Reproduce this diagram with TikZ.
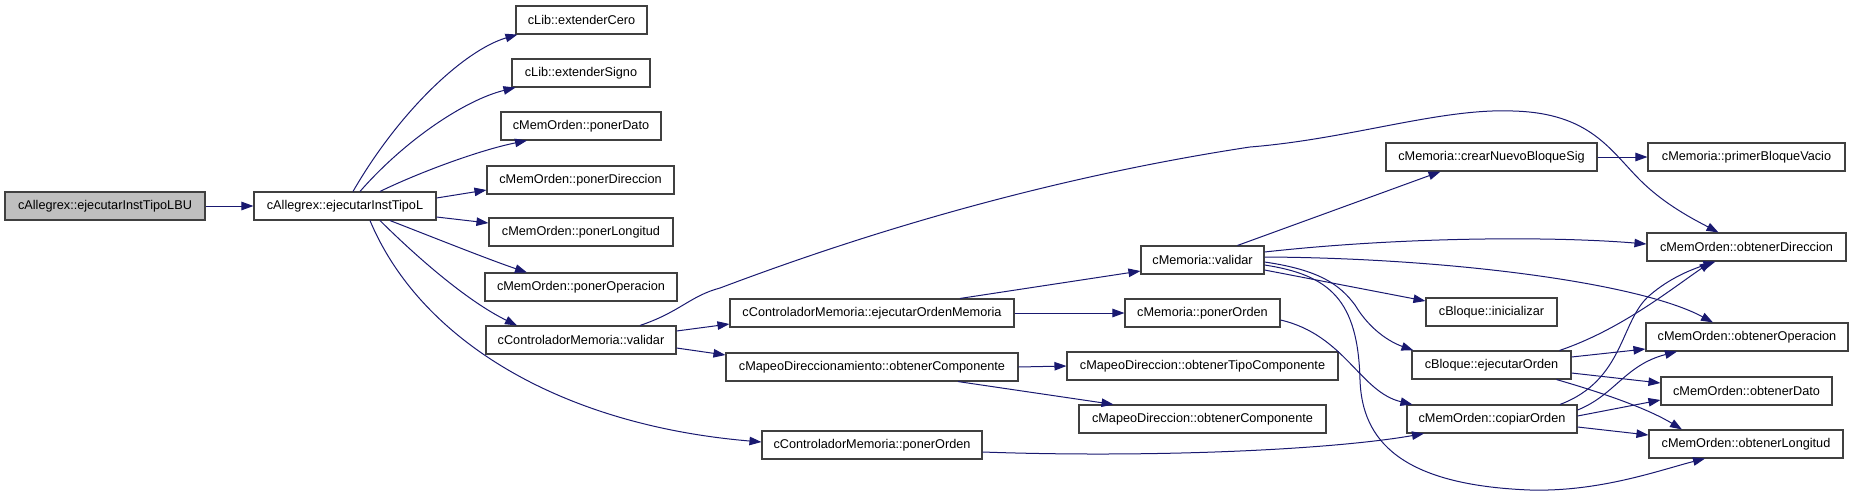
\documentclass[tikz,border=0pt]{standalone}
\usepackage{fontspec}
\setmainfont{Liberation Sans}
\usetikzlibrary{arrows.meta,calc}
\definecolor{edgec}{RGB}{25,25,112}
\definecolor{boxc}{RGB}{64,64,64}
\definecolor{rootc}{RGB}{191,191,191}
\tikzset{
  box/.style={draw=boxc, line width=1.1pt, fill=white, minimum height=28pt, inner sep=0pt,
    font=\fontsize{12.7}{15}\selectfont},
  edge/.style={draw=edgec, line width=1pt, -{Triangle[length=12pt,width=8.5pt]}},
}
\begin{document}
\begin{tikzpicture}[x=1pt,y=-1pt]
\useasboundingbox (0,0) rectangle (1853,493);
% nodes
\node[box, minimum width=200pt, fill=rootc] (A) at (105,206) {cAllegrex::ejecutarInstTipoLBU};
\node[box, minimum width=182pt] (B) at (345,206) {cAllegrex::ejecutarInstTipoL};
\node[box, minimum width=131pt] (C1) at (581.5,20) {cLib::extenderCero};
\node[box, minimum width=138pt] (C2) at (581,73) {cLib::extenderSigno};
\node[box, minimum width=160pt] (C3) at (581,126) {cMemOrden::ponerDato};
\node[box, minimum width=187pt] (C4) at (580.5,180) {cMemOrden::ponerDireccion};
\node[box, minimum width=184pt] (C5) at (581,232) {cMemOrden::ponerLongitud};
\node[box, minimum width=192pt] (C6) at (581,287) {cMemOrden::ponerOperacion};
\node[box, minimum width=190pt] (C7) at (581,340) {cControladorMemoria::validar};
\node[box, minimum width=284pt] (D1) at (872,313) {cControladorMemoria::ejecutarOrdenMemoria};
\node[box, minimum width=292pt] (D2) at (872,367) {cMapeoDireccionamiento::obtenerComponente};
\node[box, minimum width=220pt] (D3) at (872,445) {cControladorMemoria::ponerOrden};
\node[box, minimum width=123pt] (E1) at (1202.5,260) {cMemoria::validar};
\node[box, minimum width=155pt] (E2) at (1202.5,313) {cMemoria::ponerOrden};
\node[box, minimum width=271pt] (E3) at (1202.5,366) {cMapeoDireccion::obtenerTipoComponente};
\node[box, minimum width=247pt] (E4) at (1202.5,419) {cMapeoDireccion::obtenerComponente};
\node[box, minimum width=211pt] (F1) at (1491.5,157) {cMemoria::crearNuevoBloqueSig};
\node[box, minimum width=131pt] (F2) at (1491.5,312) {cBloque::inicializar};
\node[box, minimum width=159pt] (F3) at (1491.5,365) {cBloque::ejecutarOrden};
\node[box, minimum width=170pt] (F4) at (1492,419) {cMemOrden::copiarOrden};
\node[box, minimum width=197pt] (G1) at (1746.5,157) {cMemoria::primerBloqueVacio};
\node[box, minimum width=199pt] (G2) at (1746.5,247) {cMemOrden::obtenerDireccion};
\node[box, minimum width=202pt] (G3) at (1747,337) {cMemOrden::obtenerOperacion};
\node[box, minimum width=171pt] (G4) at (1746.5,391) {cMemOrden::obtenerDato};
\node[box, minimum width=194pt] (G5) at (1746,444) {cMemOrden::obtenerLongitud};
% edges
\draw[edge] (A.east) -- (B.west);
\draw[edge] ($(B.north)+(8,0)$) .. controls (400,110) and (465,50) .. ($(C1.south west)+(2,0)$);
\draw[edge] ($(B.north)+(15,0)$) .. controls (405,140) and (465,100) .. ($(C2.south west)+(4,0)$);
\draw[edge] ($(B.north)+(35,0)$) .. controls (420,172) and (480,150) .. ($(C3.south)+(-54,0)$);
\draw[edge] ($(B.east)+(0,-8)$) -- ($(C4.west)+(0,10)$);
\draw[edge] ($(B.east)+(0,11)$) -- ($(C5.west)+(0,-9)$);
\draw[edge] ($(B.south)+(45,0)$) .. controls (440,240) and (490,260) .. ($(C6.north)+(-54,0)$);
\draw[edge] ($(B.south)+(35,0)$) .. controls (430,270) and (475,305) .. ($(C7.north)+(-64,0)$);
\draw[edge] ($(B.south)+(25,0)$) .. controls (420,340) and (560,425) .. ($(D3.west)+(0,-3)$);
\draw[edge] ($(C7.east)+(0,-9)$) -- ($(D1.west)+(0,11)$);
\draw[edge] ($(C7.east)+(0,8)$) -- ($(D2.west)+(0,-12)$);
\draw[edge] ($(C7.north)+(59,0)$) .. controls (680,312) and (690,296) .. (720,288)
  .. controls (800,258) and (1000,185) .. (1250,147)
  .. controls (1350,139) and (1440,108) .. (1513,111)
  .. controls (1590,113) and (1610,150) .. (1640,180)
  .. controls (1665,205) and (1695,220) .. ($(G2.north)+(-28,0)$);
\draw[edge] ($(D1.north)+(88,0)$) -- ($(E1.west)+(0,11)$);
\draw[edge] (D1.east) -- (E2.west);
\draw[edge] (D2.east) -- (E3.west);
\draw[edge] ($(D2.south)+(86,0)$) -- ($(E4.north)+(-89,0)$);
\draw[edge] ($(D3.east)+(0,7)$) .. controls (1150,458) and (1330,450) .. ($(F4.south)+(-68,0)$);
\draw[edge] ($(E1.north)+(35,0)$) -- ($(F1.south)+(-51,0)$);
\draw[edge] ($(E1.east)+(0,-8)$) .. controls (1400,237) and (1550,236) .. ($(G2.west)+(0,-3)$);
\draw[edge] ($(E1.east)+(0,-3)$) .. controls (1450,258) and (1640,283) .. ($(G3.north)+(-34,0)$);
\draw[edge] ($(E1.east)+(0,10)$) -- ($(F2.west)+(0,-11)$);
\draw[edge] ($(E1.east)+(0,2)$) .. controls (1320,270) and (1340,285) .. (1355,305)
  .. controls (1370,330) and (1390,342) .. ($(F3.north west)+(2,0)$);
\draw[edge] ($(E1.east)+(0,5)$) .. controls (1330,275) and (1358,300) .. (1360,380)
  .. controls (1362,440) and (1400,485) .. (1530,490)
  .. controls (1600,492) and (1660,470) .. ($(G5.south)+(-41,0)$);
\draw[edge] ($(E2.east)+(0,7)$) .. controls (1345,335) and (1360,392) .. ($(F4.north west)+(6,0)$);
\draw[edge] (F1.east) -- (G1.west);
\draw[edge] ($(F3.north)+(68,0)$) .. controls (1620,330) and (1670,290) .. ($(G2.south)+(-35,0)$);
\draw[edge] ($(F4.north)+(68,0)$) .. controls (1625,380) and (1620,320) .. (1650,295)
  .. controls (1670,278) and (1690,270) .. ($(G2.south)+(-31,0)$);
\draw[edge] ($(F4.east)+(0,-9)$) .. controls (1615,395) and (1625,365) .. ($(G3.south)+(-70,0)$);
\draw[edge] ($(F3.east)+(0,-8)$) -- ($(G3.west)+(0,12)$);
\draw[edge] ($(F3.east)+(0,8)$) -- ($(G4.west)+(0,-8)$);
\draw[edge] ($(F3.south)+(65,0)$) .. controls (1610,395) and (1650,410) .. ($(G5.north)+(-64,0)$);
\draw[edge] ($(F4.east)+(0,-3)$) -- ($(G4.west)+(0,9)$);
\draw[edge] ($(F4.east)+(0,8)$) -- ($(G5.west)+(0,-9)$);
\end{tikzpicture}
\end{document}
